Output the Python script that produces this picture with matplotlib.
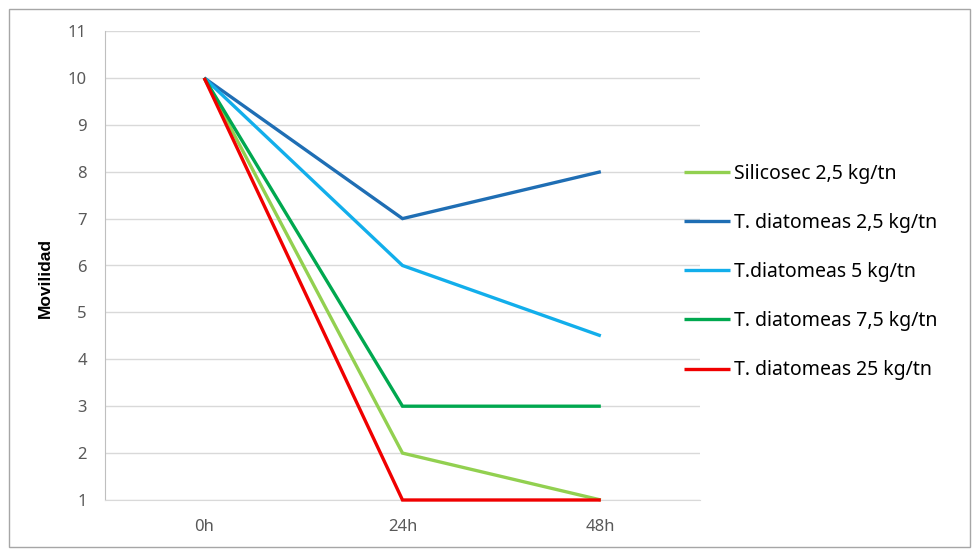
import matplotlib
matplotlib.use("Agg")
import matplotlib.pyplot as plt
from matplotlib.patches import Rectangle

categories = ["0h", "24h", "48h"]
series_names = ["Silicosec 2,5 kg/tn", "T. diatomeas 2,5 kg/tn", "T.diatomeas 5 kg/tn",
                "T. diatomeas 7,5 kg/tn", "T. diatomeas 25 kg/tn"]
silicosec_25 = [10, 2, 1]
diat_25 = [10, 7, 8]
diat_5 = [10, 6, 4.5]
diat_75 = [10, 3, 3]
diat_250 = [10, 1, 1]
colors = ["#92D050", "#1F6EB4", "#12AEEB", "#00A84F", "#F00000"]
yticks = list(range(1, 12))

plt.rcParams['font.family'] = ['Noto Sans', 'DejaVu Sans']

fig = plt.figure(figsize=(9.8, 5.6), dpi=100)
W, H = 980, 560
ax = fig.add_axes([105 / W, (H - 500) / H, (700 - 105) / W, (500 - 31) / H])

x = list(range(len(categories)))
all_series = [silicosec_25, diat_25, diat_5, diat_75, diat_250]
for vals, name, c in zip(all_series, series_names, colors):
    ax.plot(x, vals, color=c, lw=2.4, label=name, solid_capstyle='butt',
            solid_joinstyle='miter', clip_on=False, zorder=3)

ax.set_xlim(-0.5, 2.5)
ax.set_ylim(1, 11)
ax.set_yticks(yticks)
ax.set_xticks(x)
ax.set_xticklabels(categories)
ax.yaxis.grid(True, color="#D9D9D9", lw=1)
ax.set_axisbelow(True)
for s in ["top", "right"]:
    ax.spines[s].set_visible(False)
ax.spines["left"].set_color("#BFBFBF")
ax.spines["bottom"].set_color("#D9D9D9")
ax.tick_params(axis='both', length=0, colors="#595959", labelsize=12)
ax.tick_params(axis='y', pad=13)
ax.tick_params(axis='x', pad=14)
ax.set_ylabel("Movilidad", fontsize=12.5, fontweight='bold', color="black",
              family=['Liberation Sans', 'DejaVu Sans'])
ax.yaxis.set_label_coords(-0.088, 0.473)

leg = fig.legend(loc='upper left', bbox_to_anchor=(676 / W, (H - 156) / H), frameon=False,
                 fontsize=14, handlelength=2.4, handletextpad=0.2, labelspacing=1.5,
                 borderaxespad=0)

fig.patches.append(Rectangle((9 / W, (H - 547) / H), (970 - 9) / W, (547 - 9) / H,
                             transform=fig.transFigure, fill=False, edgecolor="#A6A6A6", lw=1))

fig.savefig("out.png", dpi=100)
